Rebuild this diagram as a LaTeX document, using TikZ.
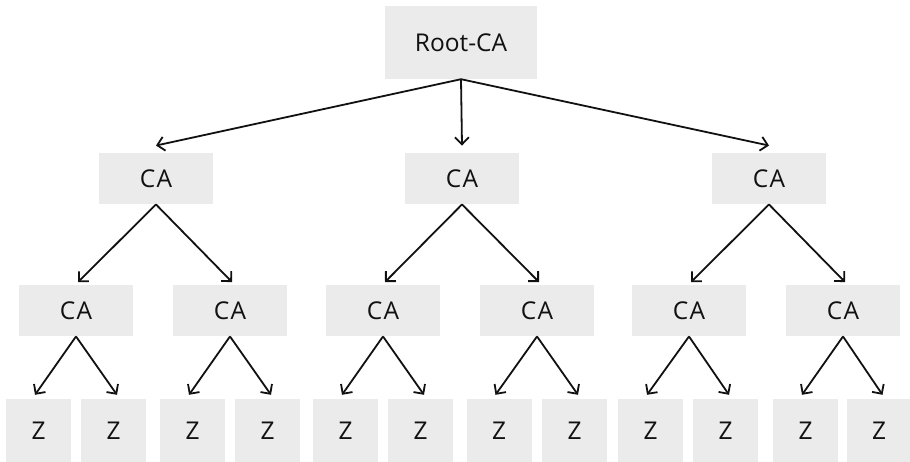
\documentclass[tikz,border=0pt]{standalone}
\usepackage{fontspec}
\newfontfamily\labelfont{Open Sans}
\usetikzlibrary{arrows.meta}
\definecolor{boxgray}{HTML}{EBEBEB}
\definecolor{ink}{HTML}{111111}
\begin{document}
\begin{tikzpicture}[x=1pt,y=-1pt,
  box/.style={fill=boxgray, inner sep=0pt, text=ink,
    font=\labelfont\fontsize{24.5}{27}\selectfont},
  cabox/.style={box, minimum width=114pt, minimum height=51.5pt},
  zbox/.style={box, minimum width=65pt, minimum height=64pt},
  link/.style={draw=ink, line width=1.8pt,
    -{Straight Barb[length=7pt,width=14pt,line width=1.8pt]}},
]
\useasboundingbox (0,0) rectangle (910,462);

% root certificate authority
\node[box, minimum width=152pt, minimum height=73pt] (root) at (461,42.5) {Root-CA};

% first level of CAs
\foreach \x [count=\i] in {156,462,769}
  \node[cabox] (c\i) at (\x,178.5) {C\kern1.5pt A};

% second level of CAs
\foreach \x [count=\i] in {76,230,383,537,689,843}
  \node[cabox] (d\i) at (\x,310.5) {C\kern1.5pt A};

% end entities
\foreach \x [count=\i] in {38.5,113.5,192.5,267.5,345.5,420.5,499,574.5,650.5,725.5,805.5,879}
  \node[zbox] (z\i) at (\x,431) {Z};

% root -> first level
\foreach \i in {1,2,3}
  \draw[link] (root.south) -- ([yshift=7pt]c\i.north);

% first level -> second level
\foreach \i/\a/\b in {1/1/2,2/3/4,3/5/6} {
  \draw[link] (c\i.south) -- ([xshift=2pt,yshift=2.5pt]d\a.north);
  \draw[link] (c\i.south) -- ([xshift=2pt,yshift=2.5pt]d\b.north);
}

% second level -> end entities
\foreach \i [evaluate=\i as \a using int(2*\i-1), evaluate=\i as \b using int(2*\i)] in {1,...,6} {
  \draw[link] (d\i.south) -- ([xshift=-3.5pt,yshift=4pt]z\a.north);
  \draw[link] (d\i.south) -- ([xshift=3.5pt,yshift=4pt]z\b.north);
}
\end{tikzpicture}
\end{document}
